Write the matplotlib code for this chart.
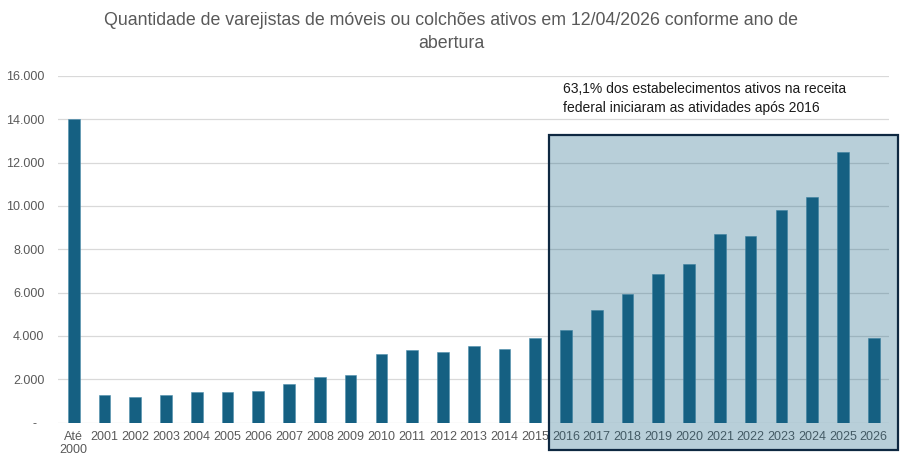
import matplotlib.pyplot as plt
from matplotlib.patches import Rectangle
from matplotlib.ticker import FuncFormatter
from matplotlib.colors import to_rgba

# %% Data
anos = ["Até\n2000", "2001", "2002", "2003", "2004", "2005", "2006", "2007", "2008",
        "2009", "2010", "2011", "2012", "2013", "2014", "2015", "2016", "2017",
        "2018", "2019", "2020", "2021", "2022", "2023", "2024", "2025", "2026"]
ativos = [13990, 1262, 1185, 1262, 1415, 1415, 1462, 1785, 2108,
          2215, 3145, 3359, 3267, 3557, 3420, 3908, 4275, 5212,
          5937, 6848, 7340, 8723, 8631, 9815, 10431, 12477, 3886]

titulo = "Quantidade de varejistas de móveis ou colchões ativos em 12/04/2026 conforme ano de\nabertura"
nota = "63,1% dos estabelecimentos ativos na receita\nfederal iniciaram as atividades após 2016"

# %% Plot
plt.rcParams['font.family'] = ['Liberation Sans', 'DejaVu Sans']
cor_barra = '#156082'
cinza = '#595959'

fig = plt.figure(figsize=(9.03, 4.57), dpi=100)
ax = fig.add_axes([0.0646, 0.0751, 0.920, 0.759])

x = range(len(anos))
ax.bar(x, ativos, width=0.38, color=cor_barra, edgecolor='#4f8fae', linewidth=0.4, zorder=2)

ax.set_xlim(-0.5, len(anos) - 0.5)
ax.set_ylim(0, 16000)
ax.set_yticks(range(0, 16001, 2000))
ax.yaxis.set_major_formatter(FuncFormatter(
    lambda v, p: "-  " if v == 0 else f"{int(v):,}".replace(",", ".")))
ax.set_xticks(list(x))
ax.set_xticklabels(anos, linespacing=1.1)

ax.tick_params(axis='both', length=0, labelsize=9, labelcolor=cinza)
ax.tick_params(axis='x', pad=6)
ax.tick_params(axis='y', pad=10)
for s in ax.spines.values():
    s.set_visible(False)
ax.grid(axis='y', color='#d9d9d9', linewidth=0.9, zorder=0)
ax.set_axisbelow(True)

fig.text(0.5, 1 - 12 / 457, titulo, ha='center', va='top', fontsize=12.8,
         color=cinza, linespacing=1.5)

# highlight box for 2016+
fig.add_artist(Rectangle((0.6083, 0.0153), 0.3858, 0.6886, transform=fig.transFigure,
                         facecolor=to_rgba(cor_barra, 0.3), edgecolor='#0E2841',
                         linewidth=1.6, zorder=5))
fig.text(563 / 903, 1 - 82 / 457, nota, ha='left', va='top', fontsize=10,
         color='#1a1a1a', linespacing=1.45)

fig.savefig("out.png", dpi=100)
